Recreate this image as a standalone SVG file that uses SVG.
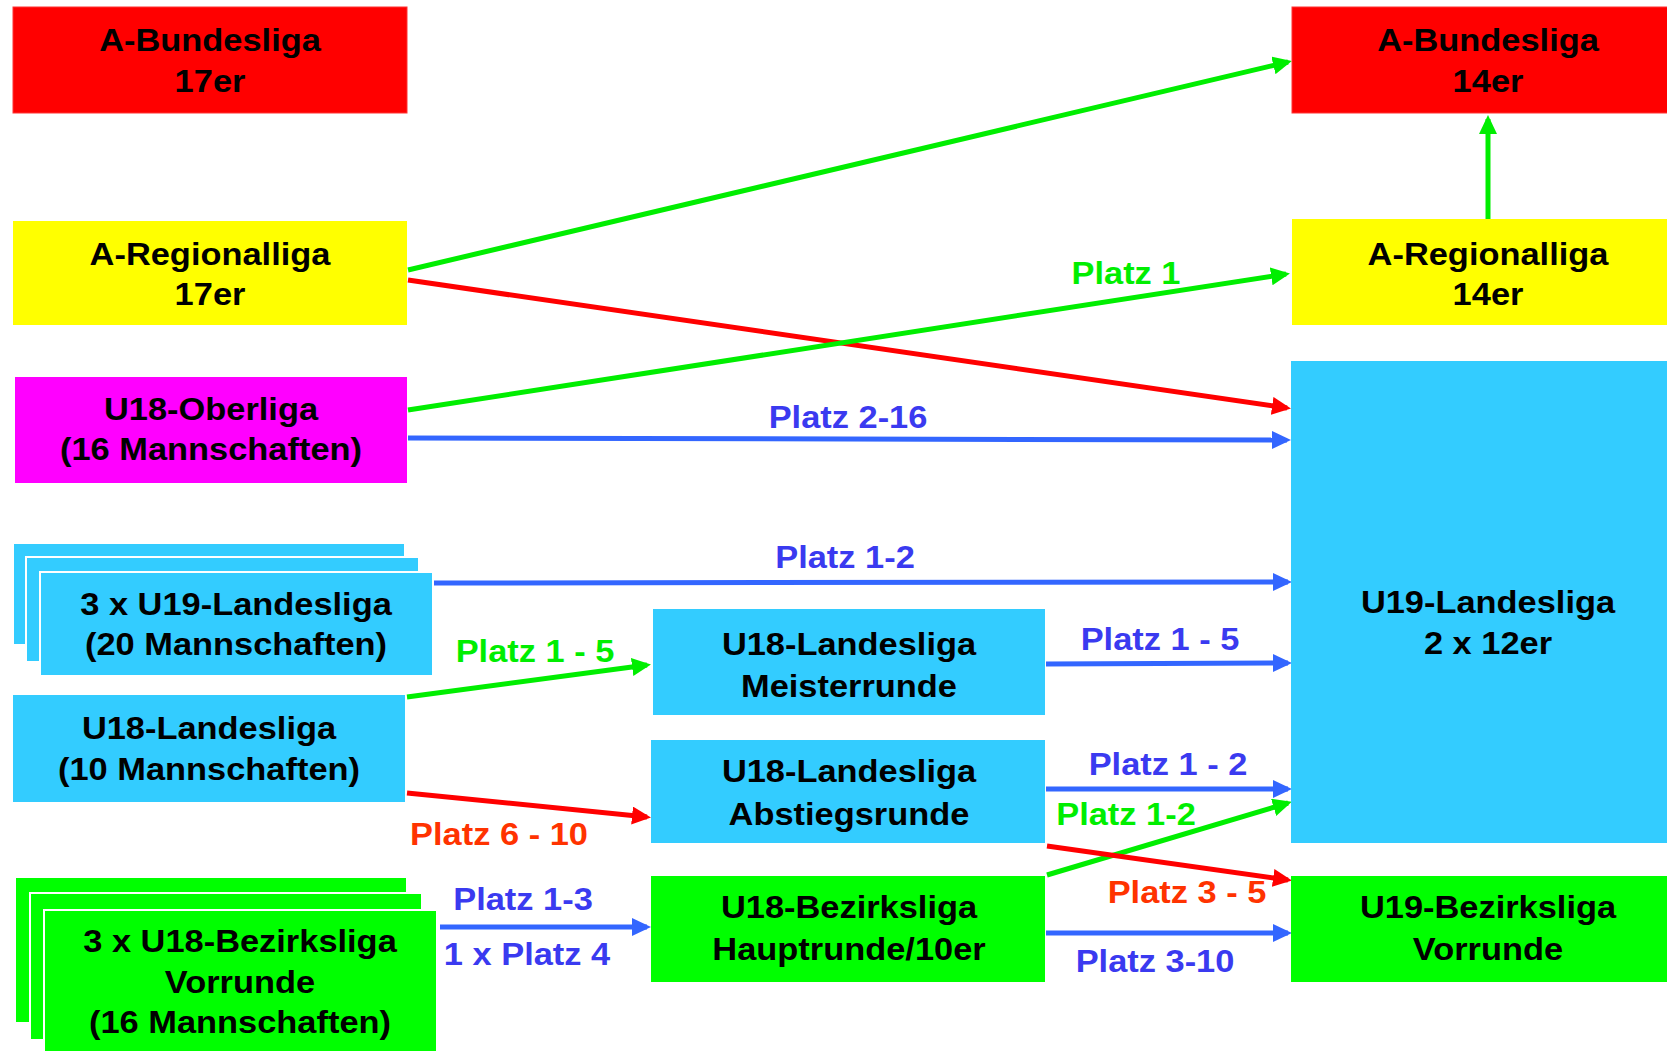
<svg xmlns="http://www.w3.org/2000/svg" width="1667" height="1051" viewBox="0 0 1667 1051">
<style>
text{font-family:"Liberation Sans",Arial,sans-serif;font-weight:bold;font-size:31px;text-anchor:middle;}
.t{fill:#000;}
.red{fill:#ff0000;stroke:#ff3333;stroke-width:1;}
.yel{fill:#ffff00;}
.mag{fill:#ff00ff;}
.cyan{fill:#33ccff;}
.grn{fill:#00ff00;}
.stk{stroke:#ffffff;stroke-width:2;}
.lg{stroke:#00ee00;stroke-width:5;fill:none;marker-end:url(#ag);}
.lr{stroke:#ff0000;stroke-width:5;fill:none;marker-end:url(#ar);}
.lb{stroke:#3366ff;stroke-width:5;fill:none;marker-end:url(#ab);}
.xg{fill:#00ee00;}
.xr{fill:#ff3300;}
.xb{fill:#3a3af0;}
</style>
<defs>
<marker id="ag" markerUnits="userSpaceOnUse" markerWidth="20" markerHeight="20" refX="15" refY="9" orient="auto"><path d="M0,0 L19,9 L0,18 Z" fill="#00ee00"/></marker>
<marker id="ar" markerUnits="userSpaceOnUse" markerWidth="20" markerHeight="20" refX="15" refY="9" orient="auto"><path d="M0,0 L19,9 L0,18 Z" fill="#ff0000"/></marker>
<marker id="ab" markerUnits="userSpaceOnUse" markerWidth="20" markerHeight="20" refX="15" refY="9" orient="auto"><path d="M0,0 L19,9 L0,18 Z" fill="#3366ff"/></marker>
</defs>
<rect width="1667" height="1051" fill="#ffffff"/>

<g id="connectors">
<line class="lg" x1="408" y1="270" x2="1288" y2="62"/>
<line class="lr" x1="408" y1="280" x2="1287" y2="408"/>
<line class="lg" x1="408" y1="410" x2="1286" y2="274"/>
<line class="lb" x1="408" y1="438" x2="1287" y2="440"/>
<line class="lb" x1="434" y1="583" x2="1288" y2="582"/>
<line class="lg" x1="407" y1="697" x2="647" y2="665"/>
<line class="lr" x1="407" y1="793" x2="647" y2="817"/>
<line class="lb" x1="1046" y1="664" x2="1288" y2="663"/>
<line class="lb" x1="1046" y1="789" x2="1288" y2="789"/>
<line class="lg" x1="1047" y1="875" x2="1288" y2="803"/>
<line class="lr" x1="1047" y1="846" x2="1288" y2="880"/>
<line class="lb" x1="1046" y1="933" x2="1288" y2="933"/>
<line class="lb" x1="440" y1="927" x2="647" y2="927"/>
<line class="lg" x1="1488" y1="220" x2="1488" y2="119"/>
</g>

<g id="labels">
<text class="xg" transform="translate(1126,284) scale(1.11,1)">Platz 1</text>
<text class="xb" transform="translate(848,428) scale(1.11,1)">Platz 2-16</text>
<text class="xb" transform="translate(845,568) scale(1.11,1)">Platz 1-2</text>
<text class="xg" transform="translate(535,662) scale(1.11,1)">Platz 1 - 5</text>
<text class="xr" transform="translate(499,845) scale(1.11,1)">Platz 6 - 10</text>
<text class="xb" transform="translate(523,910) scale(1.11,1)">Platz 1-3</text>
<text class="xb" transform="translate(527,965) scale(1.11,1)">1 x Platz 4</text>
<text class="xb" transform="translate(1160,650) scale(1.11,1)">Platz 1 - 5</text>
<text class="xb" transform="translate(1168,775) scale(1.11,1)">Platz 1 - 2</text>
<text class="xg" transform="translate(1126,825) scale(1.11,1)">Platz 1-2</text>
<text class="xr" transform="translate(1187,903) scale(1.11,1)">Platz 3 - 5</text>
<text class="xb" transform="translate(1155,972) scale(1.11,1)">Platz 3-10</text>
</g>

<g id="a-bundesliga-17">
<rect class="red" x="13" y="7" width="394" height="106"/>
<text class="t" transform="translate(210,51) scale(1.11,1)">A-Bundesliga</text>
<text class="t" transform="translate(210,92) scale(1.11,1)">17er</text>
</g>

<g id="a-regionalliga-17">
<rect class="yel" x="13" y="221" width="394" height="104"/>
<text class="t" transform="translate(210,265) scale(1.11,1)">A-Regionalliga</text>
<text class="t" transform="translate(210,305) scale(1.11,1)">17er</text>
</g>

<g id="u18-oberliga">
<rect class="mag" x="15" y="377" width="392" height="106"/>
<text class="t" transform="translate(211,420) scale(1.11,1)">U18-Oberliga</text>
<text class="t" transform="translate(211,460) scale(1.11,1)">(16 Mannschaften)</text>
</g>

<g id="u19-landesliga-3x">
<rect class="cyan stk" x="13" y="543" width="392" height="102"/>
<rect class="cyan stk" x="26" y="557" width="393" height="105"/>
<rect class="cyan stk" x="40" y="572" width="393" height="104"/>
<text class="t" transform="translate(236,615) scale(1.11,1)">3 x U19-Landesliga</text>
<text class="t" transform="translate(236,655) scale(1.11,1)">(20 Mannschaften)</text>
</g>

<g id="u18-landesliga">
<rect class="cyan" x="13" y="695" width="392" height="107"/>
<text class="t" transform="translate(209,739) scale(1.11,1)">U18-Landesliga</text>
<text class="t" transform="translate(209,780) scale(1.11,1)">(10 Mannschaften)</text>
</g>

<g id="u18-bezirksliga-3x">
<rect class="grn stk" x="15" y="877" width="392" height="146"/>
<rect class="grn stk" x="30" y="893" width="392" height="147"/>
<rect class="grn stk" x="44" y="910" width="393" height="150"/>
<text class="t" transform="translate(240,952) scale(1.11,1)">3 x U18-Bezirksliga</text>
<text class="t" transform="translate(240,993) scale(1.11,1)">Vorrunde</text>
<text class="t" transform="translate(240,1033) scale(1.11,1)">(16 Mannschaften)</text>
</g>

<g id="u18-meisterrunde">
<rect class="cyan" x="653" y="609" width="392" height="106"/>
<text class="t" transform="translate(849,655) scale(1.11,1)">U18-Landesliga</text>
<text class="t" transform="translate(849,697) scale(1.11,1)">Meisterrunde</text>
</g>

<g id="u18-abstiegsrunde">
<rect class="cyan" x="651" y="740" width="394" height="103"/>
<text class="t" transform="translate(849,782) scale(1.11,1)">U18-Landesliga</text>
<text class="t" transform="translate(849,825) scale(1.11,1)">Abstiegsrunde</text>
</g>

<g id="u18-hauptrunde">
<rect class="grn" x="651" y="876" width="394" height="106"/>
<text class="t" transform="translate(849,918) scale(1.11,1)">U18-Bezirksliga</text>
<text class="t" transform="translate(849,960) scale(1.11,1)">Hauptrunde/10er</text>
</g>

<g id="a-bundesliga-14">
<rect class="red" x="1292" y="7" width="400" height="106"/>
<text class="t" transform="translate(1488,51) scale(1.11,1)">A-Bundesliga</text>
<text class="t" transform="translate(1488,92) scale(1.11,1)">14er</text>
</g>

<g id="a-regionalliga-14">
<rect class="yel" x="1292" y="219" width="400" height="106"/>
<text class="t" transform="translate(1488,265) scale(1.11,1)">A-Regionalliga</text>
<text class="t" transform="translate(1488,305) scale(1.11,1)">14er</text>
</g>

<g id="u19-landesliga">
<rect class="cyan" x="1291" y="361" width="400" height="482"/>
<text class="t" transform="translate(1488,613) scale(1.11,1)">U19-Landesliga</text>
<text class="t" transform="translate(1488,654) scale(1.11,1)">2 x 12er</text>
</g>

<g id="u19-bezirksliga">
<rect class="grn" x="1291" y="876" width="400" height="106"/>
<text class="t" transform="translate(1488,918) scale(1.11,1)">U19-Bezirksliga</text>
<text class="t" transform="translate(1488,960) scale(1.11,1)">Vorrunde</text>
</g>
</svg>
